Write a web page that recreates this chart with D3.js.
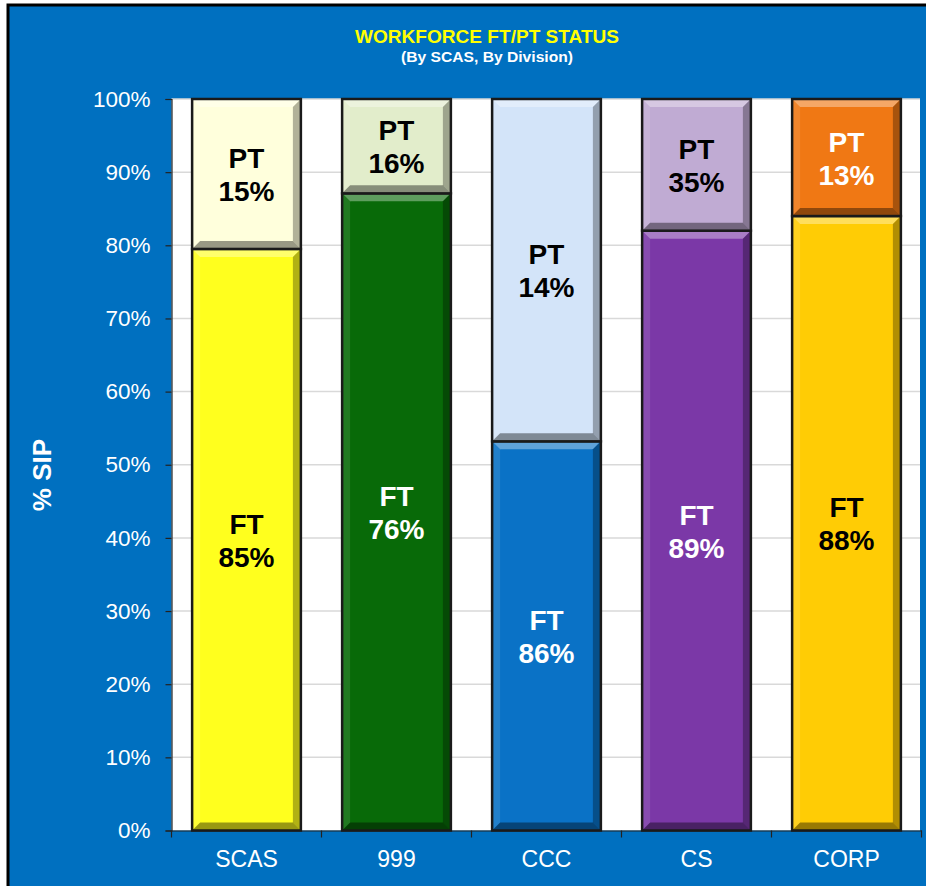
<!DOCTYPE html>
<html>
<head>
<meta charset="utf-8">
<script src="https://cdn.jsdelivr.net/npm/d3@7"></script>
<style>
html,body{margin:0;padding:0;background:#fff;}
svg{display:block;font-family:"Liberation Sans",Arial,sans-serif;}
</style>
</head>
<body>
<svg id="chart" width="926" height="886"></svg>
<script>
// ---- data ----
const categories = ["SCAS", "999", "CCC", "CS", "CORP"];
const ftHeights = [79.5, 87.1, 53.2, 82.0, 84.0];      // drawn FT segment height (%)
const ptHeights = [20.5, 12.9, 46.8, 18.0, 16.0];      // drawn PT segment height (%)
const ftLabels = ["85%", "76%", "86%", "89%", "88%"];
const ptLabels = ["15%", "16%", "14%", "35%", "13%"];
const ftColors = ["#FFFF1E", "#086A08", "#0A72C6", "#7B38A7", "#FFCC05"];
const ptColors = ["#FFFFDC", "#E2EDCB", "#D3E4F9", "#C0ABD3", "#F07814"];
const ftTextColors = ["#000", "#fff", "#fff", "#fff", "#000"];
const ptTextColors = ["#000", "#000", "#000", "#000", "#fff"];
const yTicks = [0, 10, 20, 30, 40, 50, 60, 70, 80, 90, 100];

const svg = d3.select("#chart");

// background frame
svg.append("rect").attr("x", 8).attr("y", 5).attr("width", 930).attr("height", 900)
  .attr("fill", "#0070C0").attr("stroke", "#000").attr("stroke-width", 3);

// title
svg.append("text").attr("x", 487).attr("y", 43).attr("text-anchor", "middle")
  .attr("fill", "#FFFF00").attr("font-weight", "bold").attr("font-size", 18)
  .attr("textLength", 264).attr("lengthAdjust", "spacingAndGlyphs")
  .text("WORKFORCE FT/PT STATUS");
svg.append("text").attr("x", 487).attr("y", 62).attr("text-anchor", "middle")
  .attr("fill", "#fff").attr("font-weight", "bold").attr("font-size", 14)
  .attr("textLength", 172).attr("lengthAdjust", "spacingAndGlyphs")
  .text("(By SCAS, By Division)");

const plot = {left: 171.5, right: 921.5, top: 99, bottom: 830.5};
const x = d3.scaleBand().domain(categories).range([plot.left, plot.right]).paddingInner(0.275).paddingOuter(0.1375);
const y = d3.scaleLinear().domain([0, 100]).range([plot.bottom, plot.top]);

// plot area
svg.append("rect").attr("x", plot.left).attr("y", plot.top)
  .attr("width", 920 - plot.left).attr("height", plot.bottom - plot.top)
  .attr("fill", "#fff");

// gridlines
svg.append("g").selectAll("line").data(yTicks.filter(d => d > 0)).join("line")
  .attr("x1", plot.left).attr("x2", 920)
  .attr("y1", d => y(d)).attr("y2", d => y(d))
  .attr("stroke", "#D9D9D9").attr("stroke-width", 1.5);

// y axis
const yAxis = svg.append("g").attr("transform", `translate(${plot.left},0)`)
  .call(d3.axisLeft(y).tickValues(yTicks).tickFormat(d => d + "%").tickSize(6).tickPadding(15));
yAxis.select(".domain").attr("stroke", "#222").attr("stroke-width", 1.2);
yAxis.selectAll(".tick line").attr("stroke", "#222").attr("stroke-width", 1.2);
yAxis.selectAll(".tick text").attr("fill", "#fff").attr("font-size", 22.5)
  .attr("font-family", "Liberation Sans, Arial, sans-serif");

// x axis
const xAxis = svg.append("g").attr("transform", `translate(0,${plot.bottom})`)
  .call(d3.axisBottom(x).tickSize(0).tickPadding(20));
xAxis.select(".domain").attr("stroke", "#222").attr("stroke-width", 1.2);
xAxis.selectAll(".tick text").attr("fill", "#fff").attr("font-size", 23)
  .attr("font-family", "Liberation Sans, Arial, sans-serif");
// category separator ticks
const step = x.step();
const sepXs = d3.range(categories.length + 1).map(i => plot.left + i * step);
svg.append("g").selectAll("line").data(sepXs).join("line")
  .attr("x1", d => d).attr("x2", d => d)
  .attr("y1", plot.bottom).attr("y2", plot.bottom + 7)
  .attr("stroke", "#222").attr("stroke-width", 1.2);

// y axis title
svg.append("text").attr("transform", "translate(51,475) rotate(-90)")
  .attr("text-anchor", "middle").attr("fill", "#fff").attr("font-weight", "bold")
  .attr("font-size", 26).text("% SIP");

// bevelled segments
function bevelRect(g, x0, y0, w, h, color) {
  const b = 8;
  g.append("rect").attr("x", x0).attr("y", y0).attr("width", w).attr("height", h).attr("fill", color);
  const poly = (pts, fill, op) => g.append("polygon")
    .attr("points", pts.map(p => p.join(",")).join(" "))
    .attr("fill", fill).attr("fill-opacity", op);
  poly([[x0, y0], [x0 + w, y0], [x0 + w - b, y0 + b], [x0 + b, y0 + b]], "#fff", 0.35);
  poly([[x0, y0], [x0 + b, y0 + b], [x0 + b, y0 + h - b], [x0, y0 + h]], "#fff", 0.1);
  poly([[x0 + w, y0], [x0 + w, y0 + h], [x0 + w - b, y0 + h - b], [x0 + w - b, y0 + b]], "#000", 0.3);
  poly([[x0, y0 + h], [x0 + b, y0 + h - b], [x0 + w - b, y0 + h - b], [x0 + w, y0 + h]], "#000", 0.4);
  g.append("rect").attr("x", x0).attr("y", y0).attr("width", w).attr("height", h)
    .attr("fill", "none").attr("stroke", "#1a1a1a").attr("stroke-width", 2.5);
}

function label(g, cx, cy, l1, l2, color) {
  const t = g.append("text").attr("text-anchor", "middle").attr("fill", color)
    .attr("font-weight", "bold").attr("font-size", 28);
  t.append("tspan").attr("x", cx).attr("y", cy - 6).text(l1);
  t.append("tspan").attr("x", cx).attr("y", cy + 27).text(l2);
}

const bars = svg.append("g");
categories.forEach((c, i) => {
  const g = bars.append("g");
  const bx = x(c), bw = x.bandwidth();
  const ftTop = y(ftHeights[i]);
  const ptTop = y(ftHeights[i] + ptHeights[i]);
  bevelRect(g, bx, ftTop, bw, y(0) - ftTop, ftColors[i]);
  bevelRect(g, bx, ptTop, bw, ftTop - ptTop, ptColors[i]);
  label(g, bx + bw / 2, (ftTop + y(0)) / 2, "FT", ftLabels[i], ftTextColors[i]);
  label(g, bx + bw / 2, (ptTop + ftTop) / 2, "PT", ptLabels[i], ptTextColors[i]);
});
</script>
</body>
</html>
